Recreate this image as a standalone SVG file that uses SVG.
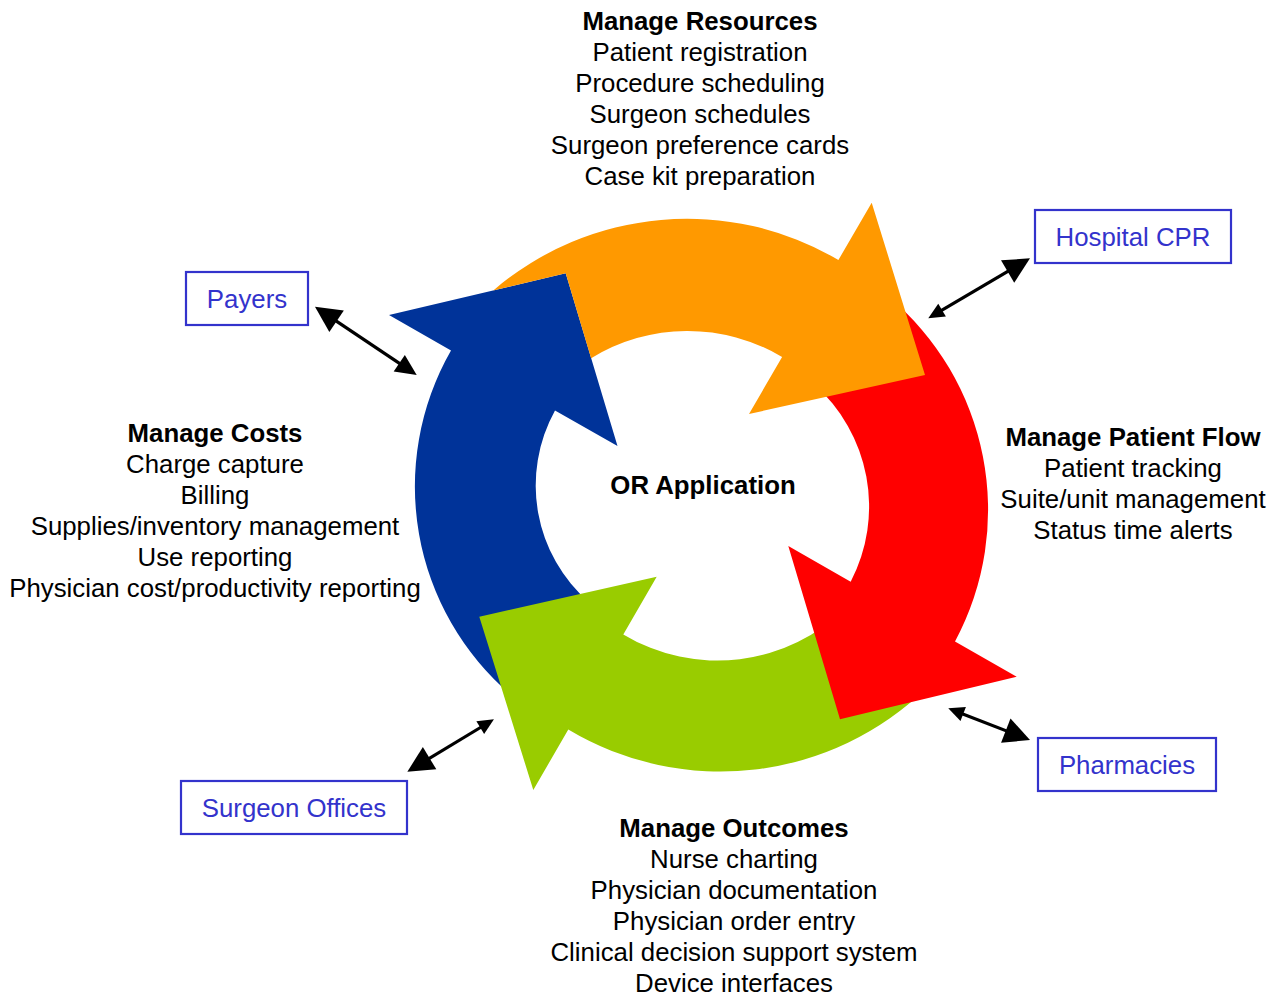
<svg xmlns="http://www.w3.org/2000/svg" width="1285" height="996" viewBox="0 0 1285 996">
  <style>
    text { font-family: "Liberation Sans", Arial, Helvetica, sans-serif; font-size: 25.8px; fill: #000; text-anchor: middle; }
    .title { font-weight: bold; }
    .ext rect { fill: #fff; stroke: #3333cc; stroke-width: 2.2; }
    .ext text { fill: #3333cc; }
    .link { fill: none; stroke: #000; stroke-width: 3.2; }
  </style>
  <defs>
    <marker id="head-lg" markerUnits="userSpaceOnUse" viewBox="-2 -15 32 30" markerWidth="32" markerHeight="30" refX="16" refY="0" orient="auto-start-reverse">
      <path d="M0,-13 L26,0 L0,13 Z" fill="#000"/>
    </marker>
    <marker id="head-md" markerUnits="userSpaceOnUse" viewBox="-2 -12 26 24" markerWidth="26" markerHeight="24" refX="11" refY="0" orient="auto-start-reverse">
      <path d="M0,-10 L21,0 L0,10 Z" fill="#000"/>
    </marker>
    <marker id="head-sm" markerUnits="userSpaceOnUse" viewBox="-2 -10 20 20" markerWidth="20" markerHeight="20" refX="6" refY="0" orient="auto-start-reverse">
      <path d="M0,-7.5 L16,0 L0,7.5 Z" fill="#000"/>
    </marker>
  </defs>
  <rect width="1285" height="996" fill="#fff"/>

  <!-- cycle of four curved arrows; each head overlaps the next tail -->
  <g id="cycle">
    <path id="arrow-costs" fill="#003399" d="M511.6,695.4 A274,274 0 0 1 451,350.5 L389,315 L565.7,273.3 L617.5,446 L555,410.5 A155,155 0 0 0 589.4,602.7 Z"/>
    <path id="arrow-outcomes" fill="#99cc00" d="M927.3,687.3 A296,296 0 0 1 568.3,729.5 L533.3,790 L479.3,616.7 L656.7,576.7 L623.3,634.4 A182,182 0 0 0 846.7,606.7 Z"/>
    <path id="arrow-flow" fill="#ff0000" d="M887.7,296 A278,278 0 0 1 955,641.4 L1016.7,676.7 L840,719.3 L788.3,546 L850.7,581.7 A163,163 0 0 0 813.8,384.1 Z"/>
    <path id="arrow-resources" fill="#ff9900" d="M493.3,290.4 A298,298 0 0 1 838.4,260 L871.7,202.7 L925,375 L749,414 L782.1,357 A184,184 0 0 0 591.1,358.3 L565.7,273.3 Z"/>
  </g>

  <g id="center-label">
    <text class="title" x="703" y="494">OR Application</text>
  </g>

  <g id="block-resources">
    <text class="title" x="700" y="30">Manage Resources</text>
    <text x="700" y="61">Patient registration</text>
    <text x="700" y="92">Procedure scheduling</text>
    <text x="700" y="123">Surgeon schedules</text>
    <text x="700" y="154">Surgeon preference cards</text>
    <text x="700" y="185">Case kit preparation</text>
  </g>

  <g id="block-flow">
    <text class="title" x="1133" y="446">Manage Patient Flow</text>
    <text x="1133" y="477">Patient tracking</text>
    <text x="1133" y="508">Suite/unit management</text>
    <text x="1133" y="539">Status time alerts</text>
  </g>

  <g id="block-costs">
    <text class="title" x="215" y="442">Manage Costs</text>
    <text x="215" y="473">Charge capture</text>
    <text x="215" y="504">Billing</text>
    <text x="215" y="535">Supplies/inventory management</text>
    <text x="215" y="566">Use reporting</text>
    <text x="215" y="597">Physician cost/productivity reporting</text>
  </g>

  <g id="block-outcomes">
    <text class="title" x="734" y="837">Manage Outcomes</text>
    <text x="734" y="868">Nurse charting</text>
    <text x="734" y="899">Physician documentation</text>
    <text x="734" y="930">Physician order entry</text>
    <text x="734" y="961">Clinical decision support system</text>
    <text x="734" y="992">Device interfaces</text>
  </g>

  <!-- two-way links between the cycle and outside parties -->
  <g id="connectors">
    <path class="link" d="M323.3,312.3 L408.4,369.4" marker-start="url(#head-lg)" marker-end="url(#head-md)"/>
    <path class="link" d="M936.9,313.2 L1021.4,263.4" marker-start="url(#head-sm)" marker-end="url(#head-lg)"/>
    <path class="link" d="M957.6,711.9 L1020.7,736.4" marker-start="url(#head-sm)" marker-end="url(#head-lg)"/>
    <path class="link" d="M415.9,766.5 L485.4,724.5" marker-start="url(#head-lg)" marker-end="url(#head-sm)"/>
  </g>

  <g id="node-payers" class="ext">
    <rect x="186" y="272" width="122" height="53"/>
    <text x="247" y="307.5">Payers</text>
  </g>
  <g id="node-hospital-cpr" class="ext">
    <rect x="1035" y="210" width="196" height="53"/>
    <text x="1133" y="245.5">Hospital CPR</text>
  </g>
  <g id="node-pharmacies" class="ext">
    <rect x="1038" y="738" width="178" height="53"/>
    <text x="1127" y="773.5">Pharmacies</text>
  </g>
  <g id="node-surgeon-offices" class="ext">
    <rect x="181" y="781" width="226" height="53"/>
    <text x="294" y="816.5">Surgeon Offices</text>
  </g>
</svg>
